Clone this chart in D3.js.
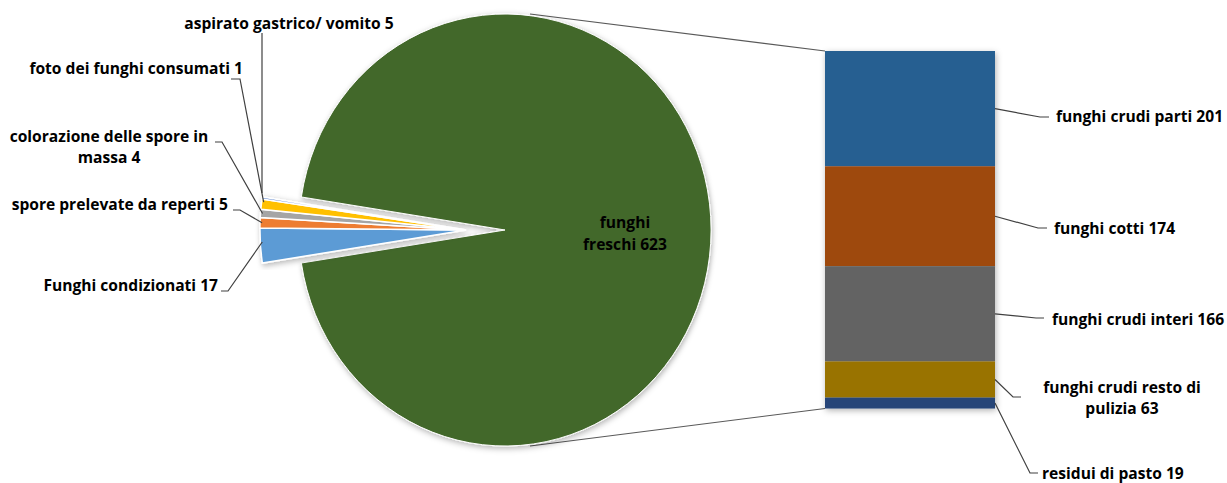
<!DOCTYPE html>
<html>
<head>
<meta charset="utf-8">
<script src="https://cdn.jsdelivr.net/npm/d3@7"></script>
<style>
  body { margin: 0; background: #fff; }
  svg { display: block; }
  .lbl { font-family: "Open Sans", "Liberation Sans", sans-serif; font-weight: bold; font-size: 15.6px; fill: #000; }
  .leader { fill: none; stroke: #404040; stroke-width: 1.2; }
</style>
</head>
<body>
<svg width="1227" height="483"></svg>
<script>
// pie slices (the small ones), then the "other" slice that opens into the bar
const pieLabels = ['Funghi condizionati', 'spore prelevate da reperti', 'colorazione delle spore in massa', 'aspirato gastrico/ vomito', 'foto dei funghi consumati'];
const pieValues = [17, 5, 4, 5, 1];
const otherLabel = 'funghi freschi';
const otherValue = 623;

// bar breakdown of the "other" slice, top to bottom
const barLabels = ['funghi crudi parti', 'funghi cotti', 'funghi crudi interi', 'funghi crudi resto di pulizia', 'residui di pasto'];
const barValues = [201, 174, 166, 63, 19];

const pieColors = ['#5B9BD5', '#ED7D31', '#A5A5A5', '#FFC000', '#4472C4', '#43682B'];
const barColors = ['#255E91', '#9E480E', '#636363', '#997300', '#264478'];

const svg = d3.select('svg');

const defs = svg.append('defs');
const f = defs.append('filter').attr('id', 'shadow')
  .attr('x', '-10%').attr('y', '-10%').attr('width', '120%').attr('height', '120%');
f.append('feDropShadow')
  .attr('dx', 1).attr('dy', 2).attr('stdDeviation', 3)
  .attr('flood-color', '#000').attr('flood-opacity', 0.3);

// pie geometry
const R = 216;
const sx = 0.954;
const cy = 230;
const mainCx = 505;
const smallCx = 466;

const total = d3.sum(pieValues) + otherValue;
const smallSpan = d3.sum(pieValues) / total * 2 * Math.PI;
const start = 1.5 * Math.PI - smallSpan / 2;

const pie = d3.pie().sort(null).value(d => d.value)
  .startAngle(start).endAngle(start + 2 * Math.PI);

const arcs = pie(pieLabels.map((l, i) => ({ label: l, value: pieValues[i], color: pieColors[i] }))
  .concat([{ label: otherLabel, value: otherValue, color: pieColors[5] }]));

const arc = d3.arc().innerRadius(0).outerRadius(R);

// connector lines between pie and bar
const barX0 = 825;
const barX1 = 995;
const y = d3.scaleLinear().domain([0, d3.sum(barValues)]).range([51, 408.5]);

svg.append('g')
  .selectAll('line')
  .data([[530, 14, barX0, y(0)], [530, 446, barX0, y(d3.sum(barValues))]])
  .enter().append('line')
  .attr('x1', d => d[0]).attr('y1', d => d[1])
  .attr('x2', d => d[2]).attr('y2', d => d[3])
  .attr('stroke', '#595959').attr('stroke-width', 1.1);

// main slice
svg.append('g')
  .attr('filter', 'url(#shadow)')
  .attr('transform', `translate(${mainCx},${cy}) scale(${sx},1)`)
  .selectAll('path')
  .data(arcs.slice(5))
  .enter().append('path')
  .attr('d', arc)
  .attr('fill', d => d.data.color)
  .attr('stroke', '#fff')
  .attr('stroke-width', 1);

// small slices
svg.append('g')
  .attr('filter', 'url(#shadow)')
  .attr('transform', `translate(${smallCx},${cy}) scale(${sx},1)`)
  .selectAll('path')
  .data(arcs.slice(0, 5))
  .enter().append('path')
  .attr('d', arc)
  .attr('fill', d => d.data.color)
  .attr('stroke', '#fff')
  .attr('stroke-width', 1.5);

// bar of pie
let cum = 0;
const stack = barValues.map((v, i) => {
  const s = { label: barLabels[i], value: v, y0: cum, y1: cum + v, color: barColors[i] };
  cum += v;
  return s;
});

svg.append('g')
  .attr('filter', 'url(#shadow)')
  .selectAll('rect')
  .data(stack)
  .enter().append('rect')
  .attr('x', barX0)
  .attr('width', barX1 - barX0)
  .attr('y', d => y(d.y0))
  .attr('height', d => y(d.y1) - y(d.y0))
  .attr('fill', d => d.color);

// point on a small slice's outer edge
const edge = (i, t) => {
  const a = arcs[i].startAngle + (arcs[i].endAngle - arcs[i].startAngle) * t;
  return [smallCx + R * sx * Math.sin(a) + 2, cy - R * Math.cos(a)];
};

// pie labels: [lines], anchor x, first baseline, anchor, leader points
const pieLabelLayout = [
  { i: 0, lines: [`${pieLabels[0]} ${pieValues[0]}`], x: 218, y: 291, anchor: 'end', pts: [[221, 291], [228, 291]], t: 0.6 },
  { i: 1, lines: [`${pieLabels[1]} ${pieValues[1]}`], x: 228, y: 210, anchor: 'end', pts: [[233, 210], [240, 210]], t: 0.5 },
  { i: 2, lines: ['colorazione delle spore in', `massa ${pieValues[2]}`], x: 109, y: 142, anchor: 'middle', pts: [[215, 142], [222, 142]], t: 0.5 },
  { i: 3, lines: [`${pieLabels[3]} ${pieValues[3]}`], x: 289, y: 29, anchor: 'middle', pts: [[262, 33]], t: 1.6 },
  { i: 4, lines: [`${pieLabels[4]} ${pieValues[4]}`], x: 243, y: 74, anchor: 'end', pts: [[231, 79], [240, 79]], t: -1.5 }
];

pieLabelLayout.forEach((d) => {
  const e = edge(d.i, d.t);
  const pts = d.pts.concat([d.i === 3 ? [262, e[1]] : e]);
  svg.append('path').attr('class', 'leader').attr('d', d3.line()(pts));
  const t = svg.append('text').attr('class', 'lbl').attr('text-anchor', d.anchor);
  d.lines.forEach((l, k) => {
    t.append('tspan').attr('x', d.x).attr('y', d.y + k * 20.5).text(l);
  });
});

// main slice label
const mainText = svg.append('text').attr('class', 'lbl').attr('text-anchor', 'middle');
['funghi', `freschi ${otherValue}`].forEach((l, k) => {
  mainText.append('tspan').attr('x', 625).attr('y', 228 + k * 21.5).text(l);
});

// bar labels
const barLabelLayout = [
  { lines: [`${barLabels[0]} ${barValues[0]}`], x: 1056, y: 122, anchor: 'start', bend: [1040, 117], tick: 1049 },
  { lines: [`${barLabels[1]} ${barValues[1]}`], x: 1054, y: 234, anchor: 'start', bend: [1038, 228], tick: 1047 },
  { lines: [`${barLabels[2]} ${barValues[2]}`], x: 1052, y: 325, anchor: 'start', bend: [1036, 318], tick: 1044 },
  { lines: ['funghi crudi resto di', `pulizia ${barValues[3]}`], x: 1122, y: 393, anchor: 'middle', bend: [1013, 397], tick: 1021 },
  { lines: [`${barLabels[4]} ${barValues[4]}`], x: 1042, y: 479, anchor: 'start', bend: [1030, 473], tick: 1038 }
];

barLabelLayout.forEach((d, i) => {
  const s = stack[i];
  const ym = y((s.y0 + s.y1) / 2);
  svg.append('path').attr('class', 'leader')
    .attr('d', d3.line()([[barX1, ym], d.bend, [d.tick, d.bend[1]]]));
  const t = svg.append('text').attr('class', 'lbl').attr('text-anchor', d.anchor);
  d.lines.forEach((l, k) => {
    t.append('tspan').attr('x', d.x).attr('y', d.y + k * 21).text(l);
  });
});
</script>
</body>
</html>
